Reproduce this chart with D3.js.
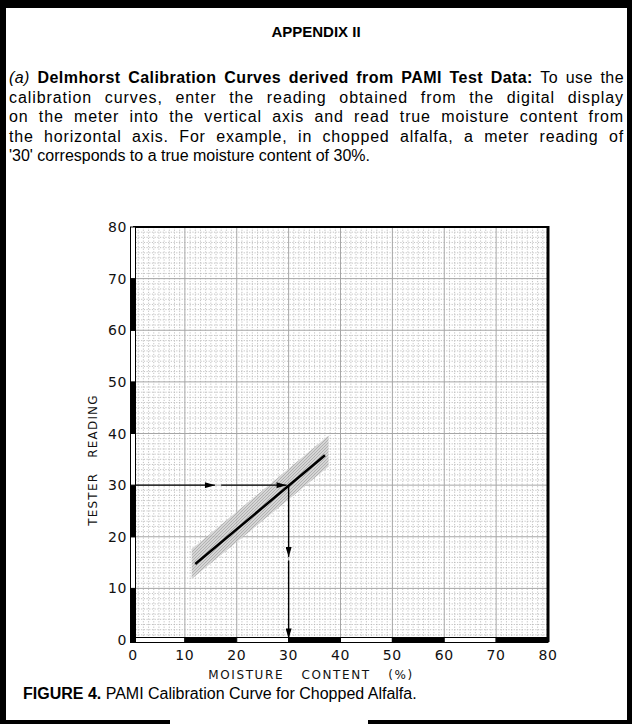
<!DOCTYPE html>
<html>
<head>
<meta charset="utf-8">
<script src="https://cdn.jsdelivr.net/npm/d3@7"></script>
<style>
  body { margin: 0; background: #fff; }
  svg { display: block; }
</style>
</head>
<body>
<script>
// ---- data ----
const xTicks = [0, 10, 20, 30, 40, 50, 60, 70, 80]
const yTicks = [0, 10, 20, 30, 40, 50, 60, 70, 80]
const calibMoisture = [12, 37]
const calibReading = [14.7, 35.8]
const bandMoisture = [11.3, 37.7]
const bandLow = [11.8, 33.6]
const bandHigh = [17.6, 39.6]
const exampleReading = 30
const exampleMoisture = 30

const paragraph = [
  [["(a) ", "italic"], ["Delmhorst Calibration Curves derived from PAMI Test Data:", "bold"], [" To use the", "normal"]],
  [["calibration curves, enter the reading obtained from the digital display", "normal"]],
  [["on the meter into the vertical axis and read true moisture content from", "normal"]],
  [["the horizontal axis. For example, in chopped alfalfa, a meter reading of", "normal"]],
  [["'30' corresponds to a true moisture content of 30%.", "normal"]]
]

const width = 632
const height = 724
const font = "'Liberation Sans', Arial, sans-serif"

const svg = d3.select("body")
  .append("svg")
  .attr("width", width)
  .attr("height", height)

// outer frame
const frame = svg.append("g").attr("fill", "#000")
frame.append("rect").attr("x", 0).attr("y", 0).attr("width", width).attr("height", 8)
frame.append("rect").attr("x", 0).attr("y", 0).attr("width", 6).attr("height", height)
frame.append("rect").attr("x", width - 5).attr("y", 0).attr("width", 5).attr("height", height)
frame.append("rect").attr("x", 0).attr("y", 720).attr("width", 170).attr("height", 4)
frame.append("rect").attr("x", 368).attr("y", 720).attr("width", width - 368).attr("height", 4)

svg.append("text")
  .attr("x", 316)
  .attr("y", 37)
  .attr("text-anchor", "middle")
  .attr("font-family", font)
  .attr("font-weight", "bold")
  .attr("font-size", 15)
  .text("APPENDIX II")

// justified paragraph: half the slack goes to letters, half to word gaps
const left = 9, right = 624
paragraph.forEach((segs, i) => {
  const t = svg.append("text")
    .attr("x", left)
    .attr("y", 83 + i * 19.5)
    .attr("font-family", font)
    .attr("font-size", 16)
  segs.forEach(s => {
    t.append("tspan")
      .attr("font-style", s[1] === "italic" ? "italic" : null)
      .attr("font-weight", s[1] === "bold" ? "bold" : null)
      .text(s[0])
  })
  if (i < paragraph.length - 1) {
    const full = segs.map(s => s[0]).join("")
    const spaces = full.split(" ").length - 1
    const slack = right - left - t.node().getComputedTextLength()
    t.attr("letter-spacing", slack * 0.5 / full.length)
    t.attr("word-spacing", slack * 0.5 / spaces)
  }
})

// chart
const x = d3.scaleLinear().domain([0, 80]).range([133, 548])
const y = d3.scaleLinear().domain([0, 80]).range([640, 227])

const grid = svg.append("g")
grid.selectAll(".minx")
  .data(d3.range(1, 80).filter(d => d % 10))
  .join("line")
  .attr("x1", d => x(d)).attr("x2", d => x(d))
  .attr("y1", y(80)).attr("y2", y(0))
  .attr("stroke", "#b4b4b4").attr("stroke-width", 0.8)
  .attr("stroke-dasharray", "1.2,1.5")
grid.selectAll(".miny")
  .data(d3.range(1, 80).filter(d => d % 10))
  .join("line")
  .attr("y1", d => y(d)).attr("y2", d => y(d))
  .attr("x1", x(0)).attr("x2", x(80))
  .attr("stroke", "#b4b4b4").attr("stroke-width", 0.8)
  .attr("stroke-dasharray", "1.2,1.5")
grid.selectAll(".majx")
  .data(xTicks.slice(1, -1))
  .join("line")
  .attr("x1", d => x(d)).attr("x2", d => x(d))
  .attr("y1", y(80)).attr("y2", y(0))
  .attr("stroke", "#a6a6a6").attr("stroke-width", 1)
grid.selectAll(".majy")
  .data(yTicks.slice(1, -1))
  .join("line")
  .attr("y1", d => y(d)).attr("y2", d => y(d))
  .attr("x1", x(0)).attr("x2", x(80))
  .attr("stroke", "#a6a6a6").attr("stroke-width", 1)

// shaded confidence band
const defs = svg.append("defs")
const pat = defs.append("pattern")
  .attr("id", "stipple")
  .attr("patternUnits", "userSpaceOnUse")
  .attr("width", 3).attr("height", 3)
pat.append("rect").attr("width", 3).attr("height", 3).attr("fill", "#cfcfcf")
pat.append("path").attr("d", "M0,3L3,0").attr("stroke", "#8a8a8a").attr("stroke-width", 0.6)

const bandPts = [
  [bandMoisture[0], bandLow[0]], [bandMoisture[1], bandLow[1]],
  [bandMoisture[1], bandHigh[1]], [bandMoisture[0], bandHigh[0]]
]
svg.append("path")
  .datum(bandPts)
  .attr("d", d3.line().x(d => x(d[0])).y(d => y(d[1])).curve(d3.curveLinearClosed))
  .attr("fill", "url(#stipple)")
  .attr("opacity", 0.85)

// calibration line
svg.append("line")
  .attr("x1", x(calibMoisture[0])).attr("y1", y(calibReading[0]))
  .attr("x2", x(calibMoisture[1])).attr("y2", y(calibReading[1]))
  .attr("stroke", "#000").attr("stroke-width", 2.6)

// example arrows
defs.append("marker")
  .attr("id", "head")
  .attr("viewBox", "0 0 10 6")
  .attr("refX", 10).attr("refY", 3)
  .attr("markerWidth", 11).attr("markerHeight", 6)
  .attr("markerUnits", "userSpaceOnUse")
  .attr("orient", "auto")
  .append("path").attr("d", "M0,0L10,3L0,6Z").attr("fill", "#000")

const arrows = [
  [[0, exampleReading], [15.8, exampleReading]],
  [[17, exampleReading], [exampleMoisture - 0.4, exampleReading]],
  [[exampleMoisture, exampleReading], [exampleMoisture, 16.1]],
  [[exampleMoisture, 15.4], [exampleMoisture, 0.3]]
]
svg.selectAll(".arrow")
  .data(arrows)
  .join("line")
  .attr("x1", d => x(d[0][0])).attr("y1", d => y(d[0][1]))
  .attr("x2", d => x(d[1][0])).attr("y2", d => y(d[1][1]))
  .attr("stroke", "#000").attr("stroke-width", 1.4)
  .attr("marker-end", "url(#head)")

// plot border: thin top, heavy right
svg.append("line")
  .attr("x1", x(0)).attr("x2", x(80)).attr("y1", y(80)).attr("y2", y(80))
  .attr("stroke", "#000").attr("stroke-width", 2)
svg.append("line")
  .attr("x1", x(80)).attr("x2", x(80)).attr("y1", y(80) - 1).attr("y2", y(0) + 2)
  .attr("stroke", "#000").attr("stroke-width", 3)

// segmented axis bars (alternating filled / open)
const segs = d3.range(8)
svg.selectAll(".ybar")
  .data(segs)
  .join("rect")
  .attr("x", x(0) - 2.5).attr("width", 5)
  .attr("y", d => y(d * 10 + 10)).attr("height", d => y(d * 10) - y(d * 10 + 10))
  .attr("fill", d => d % 2 === 0 ? "#000" : "#fff")
  .attr("stroke", "#000").attr("stroke-width", 1)
svg.selectAll(".xbar")
  .data(segs)
  .join("rect")
  .attr("y", y(0) - 2.5).attr("height", 5)
  .attr("x", d => x(d * 10)).attr("width", d => x(d * 10 + 10) - x(d * 10))
  .attr("fill", d => d % 2 === 1 ? "#000" : "#fff")
  .attr("stroke", "#000").attr("stroke-width", 1)
svg.append("rect")
  .attr("x", x(0) - 3).attr("y", y(0) - 3).attr("width", 6).attr("height", 6)
  .attr("fill", "#000")

// tick labels
const tickFont = "'DejaVu Sans', sans-serif"
svg.selectAll(".ylab")
  .data(yTicks)
  .join("text")
  .attr("x", 127).attr("y", d => y(d) + 5)
  .attr("text-anchor", "end")
  .attr("font-family", tickFont).attr("font-size", 14)
  .attr("letter-spacing", 0.6)
  .attr("fill", "#111")
  .text(d => d)
svg.selectAll(".xlab")
  .data(xTicks)
  .join("text")
  .attr("x", d => x(d)).attr("y", 660)
  .attr("text-anchor", "middle")
  .attr("font-family", tickFont).attr("font-size", 14)
  .attr("letter-spacing", 0.6)
  .attr("fill", "#111")
  .text(d => d)

svg.append("text")
  .attr("x", 311).attr("y", 679)
  .attr("text-anchor", "middle")
  .attr("font-family", tickFont).attr("font-size", 12)
  .attr("letter-spacing", 1.6).attr("word-spacing", 12)
  .attr("fill", "#111")
  .text("MOISTURE CONTENT (%)")

svg.append("text")
  .attr("transform", "translate(97,460) rotate(-90)")
  .attr("text-anchor", "middle")
  .attr("font-family", tickFont).attr("font-size", 12)
  .attr("letter-spacing", 1.2).attr("word-spacing", 10)
  .attr("fill", "#111")
  .text("TESTER READING")

// caption
const cap = svg.append("text")
  .attr("x", 23).attr("y", 699)
  .attr("font-family", font).attr("font-size", 16)
cap.append("tspan").attr("font-weight", "bold").text("FIGURE 4.")
cap.append("tspan").text(" PAMI Calibration Curve for Chopped Alfalfa.")
</script>
</body>
</html>
